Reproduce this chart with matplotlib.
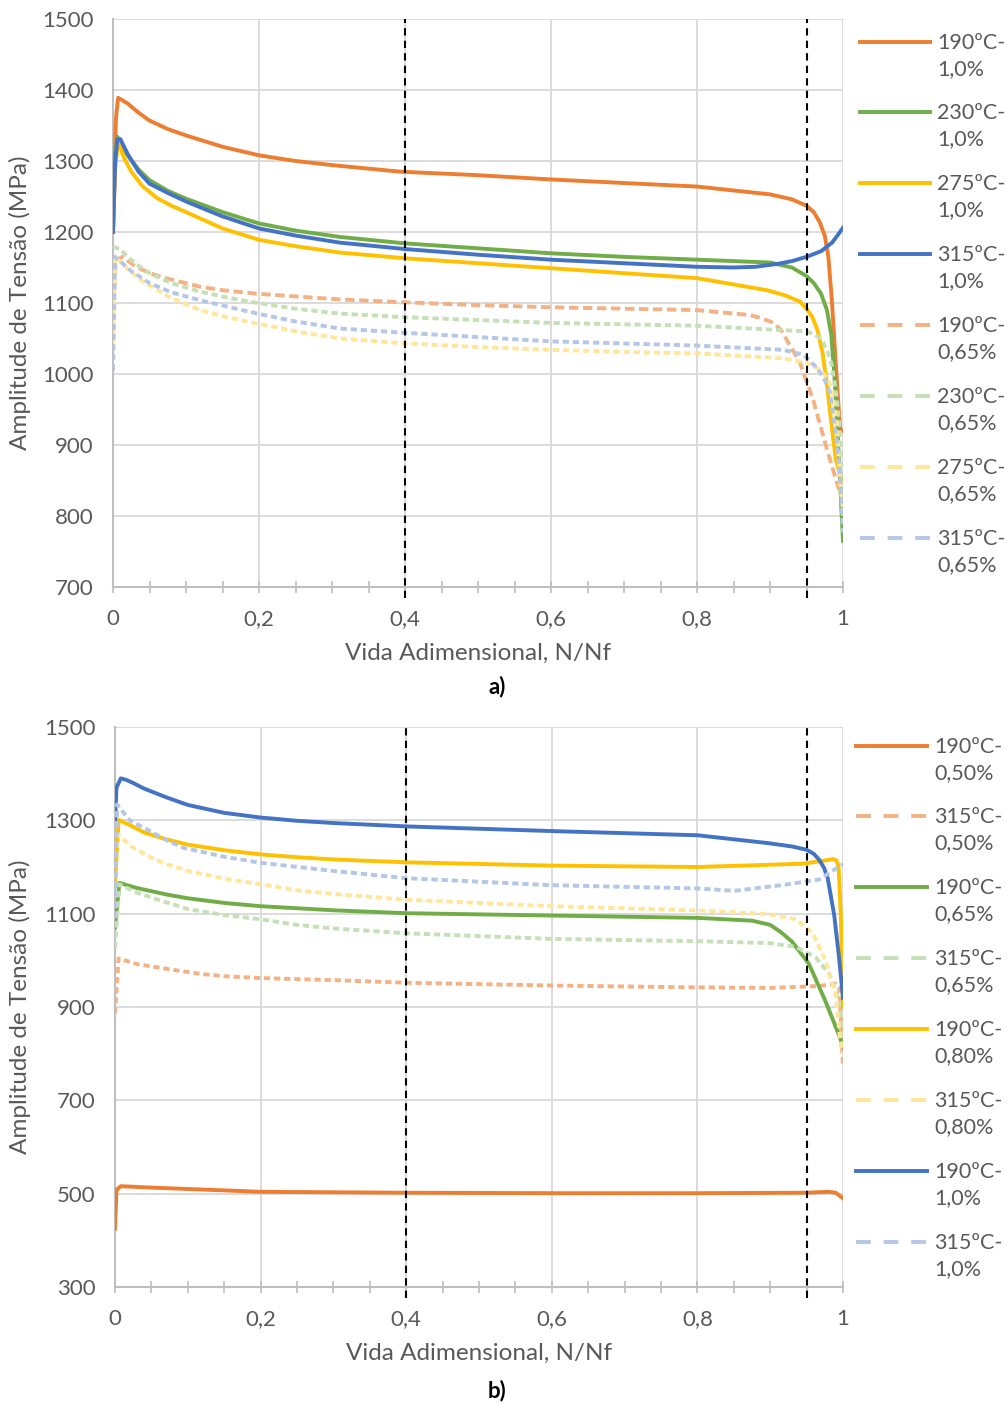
import matplotlib.pyplot as plt
from matplotlib.lines import Line2D
from matplotlib.ticker import MultipleLocator, FuncFormatter

plt.rcParams['font.family'] = ['Lato', 'DejaVu Sans']

ORANGE = '#ED7D31'
GREEN = '#70AD47'
GOLD = '#FFC000'
BLUE = '#4472C4'
L_ORANGE = '#F4B183'
L_GREEN = '#C5E0B4'
L_GOLD = '#FFE699'
L_BLUE = '#B4C7E7'
GRID = '#D9D9D9'
TXT = '#595959'

# ---- a) data: stress amplitude vs normalised life ----
a_190_10_x = [0, 0.004, 0.007, 0.02, 0.035, 0.05, 0.075, 0.1, 0.15, 0.2, 0.25, 0.302, 0.393, 0.5, 0.6, 0.7, 0.8, 0.9, 0.93, 0.95, 0.96, 0.968, 0.975, 0.98, 0.985, 0.99, 0.996, 1.0]
a_190_10_y = [1200, 1360, 1389, 1381, 1368, 1357, 1345, 1336, 1320, 1308, 1300, 1294, 1285, 1280, 1274, 1269, 1264, 1253, 1246, 1237, 1228, 1214, 1195, 1165, 1100, 1016, 922, 920]

a_230_10_x = [0, 0.003, 0.006, 0.012, 0.02, 0.035, 0.05, 0.075, 0.1, 0.15, 0.2, 0.25, 0.311, 0.4, 0.5, 0.6, 0.7, 0.8, 0.9, 0.93, 0.95, 0.96, 0.97, 0.978, 0.984, 0.988, 0.992, 0.996, 1.0]
a_230_10_y = [1200, 1310, 1334, 1322, 1308, 1288, 1273, 1258, 1247, 1228, 1212, 1202, 1193, 1184, 1177, 1170, 1165, 1161, 1157, 1150, 1138, 1128, 1113, 1090, 1055, 1000, 930, 847, 765]

a_275_10_x = [0, 0.003, 0.007, 0.015, 0.025, 0.04, 0.06, 0.08, 0.1, 0.15, 0.2, 0.25, 0.311, 0.4, 0.5, 0.6, 0.7, 0.8, 0.896, 0.92, 0.941, 0.95, 0.958, 0.965, 0.972, 0.978, 0.983, 0.99, 1.0]
a_275_10_y = [1200, 1290, 1327, 1305, 1285, 1265, 1248, 1237, 1228, 1205, 1189, 1180, 1171, 1163, 1156, 1149, 1142, 1135, 1118, 1111, 1102, 1092, 1080, 1062, 1030, 985, 940, 880, 847]

a_315_10_x = [0, 0.003, 0.006, 0.01, 0.02, 0.035, 0.05, 0.075, 0.1, 0.15, 0.2, 0.25, 0.311, 0.4, 0.5, 0.6, 0.7, 0.8, 0.85, 0.88, 0.91, 0.93, 0.95, 0.97, 0.985, 0.993, 1.0]
a_315_10_y = [1200, 1300, 1330, 1331, 1310, 1285, 1268, 1255, 1243, 1222, 1205, 1195, 1185, 1176, 1168, 1161, 1156, 1151, 1150, 1151, 1155, 1159, 1165, 1173, 1185, 1196, 1206]

a_190_065_x = [0, 0.004, 0.013, 0.03, 0.05, 0.076, 0.119, 0.15, 0.198, 0.311, 0.4, 0.5, 0.6, 0.7, 0.8, 0.873, 0.89, 0.905, 0.915, 0.923, 0.941, 0.959, 0.978, 0.989, 1.0]
a_190_065_y = [1100, 1160, 1165, 1152, 1142, 1134, 1123, 1118, 1113, 1105, 1101, 1097, 1094, 1092, 1090, 1083, 1078, 1072, 1062, 1048, 1016, 964, 894, 856, 820]

a_230_065_x = [0, 0.009, 0.03, 0.05, 0.08, 0.119, 0.16, 0.198, 0.25, 0.311, 0.4, 0.5, 0.6, 0.7, 0.8, 0.95, 0.962, 0.971, 0.979, 0.985, 0.991, 0.996, 1.0]
a_230_065_y = [1179, 1176, 1156, 1142, 1128, 1116, 1107, 1100, 1092, 1085, 1080, 1076, 1072, 1070, 1068, 1060, 1055, 1048, 1032, 1011, 970, 917, 800]

a_275_065_x = [0, 0.003, 0.02, 0.04, 0.076, 0.119, 0.16, 0.198, 0.25, 0.311, 0.4, 0.5, 0.6, 0.7, 0.8, 0.918, 0.95, 0.962, 0.971, 0.979, 0.985, 0.991, 0.996, 1.0]
a_275_065_y = [1040, 1165, 1148, 1131, 1109, 1090, 1079, 1071, 1060, 1050, 1043, 1038, 1034, 1031, 1029, 1022, 1016, 1010, 1003, 993, 978, 935, 847, 810]

a_315_065_x = [0, 0.003, 0.025, 0.05, 0.08, 0.119, 0.16, 0.198, 0.25, 0.311, 0.4, 0.5, 0.6, 0.7, 0.8, 0.918, 0.946, 0.963, 0.974, 0.982, 0.990, 0.996, 1.0]
a_315_065_y = [1005, 1165, 1145, 1128, 1115, 1104, 1094, 1085, 1074, 1064, 1058, 1052, 1046, 1043, 1040, 1034, 1027, 1010, 994, 974, 917, 860, 777]

# ---- b) data ----
b_190_050_x = [0, 0.002, 0.008, 0.05, 0.117, 0.2, 0.4, 0.6, 0.8, 0.95, 0.98, 0.99, 1.0]
b_190_050_y = [425, 508, 516, 513, 509, 504, 502, 501, 501, 502, 504, 502, 490]

b_315_050_x = [0, 0.005, 0.03, 0.07, 0.117, 0.15, 0.2, 0.311, 0.4, 0.6, 0.8, 0.9, 0.967, 0.99, 0.995, 1.0]
b_315_050_y = [886, 1004, 992, 982, 971, 966, 962, 957, 952, 946, 942, 941, 945, 950, 941, 772]

b_190_065_x = [0, 0.006, 0.03, 0.071, 0.1, 0.15, 0.2, 0.303, 0.4, 0.6, 0.8, 0.875, 0.9, 0.915, 0.93, 0.953, 0.976, 0.995, 1.0]
b_190_065_y = [1070, 1166, 1155, 1141, 1133, 1123, 1116, 1107, 1101, 1096, 1091, 1085, 1076, 1060, 1040, 993, 912, 838, 816]

b_315_065_x = [0, 0.006, 0.03, 0.071, 0.1, 0.15, 0.2, 0.25, 0.303, 0.4, 0.6, 0.8, 0.898, 0.935, 0.962, 0.981, 0.995, 1.0]
b_315_065_y = [1027, 1163, 1145, 1124, 1110, 1097, 1088, 1076, 1068, 1058, 1046, 1041, 1037, 1029, 1007, 971, 912, 816]

b_190_080_x = [0, 0.005, 0.02, 0.04, 0.071, 0.1, 0.15, 0.2, 0.25, 0.303, 0.4, 0.6, 0.8, 0.944, 0.972, 0.986, 0.991, 0.994, 0.997, 1.0]
b_190_080_y = [1170, 1301, 1290, 1274, 1259, 1248, 1236, 1227, 1221, 1216, 1210, 1203, 1200, 1207, 1213, 1217, 1214, 1200, 1096, 901]

b_315_080_x = [0, 0.004, 0.025, 0.05, 0.071, 0.1, 0.15, 0.2, 0.25, 0.303, 0.4, 0.6, 0.8, 0.898, 0.935, 0.958, 0.976, 0.99, 0.997, 1.0]
b_315_080_y = [1177, 1270, 1241, 1220, 1206, 1192, 1175, 1163, 1150, 1142, 1130, 1116, 1107, 1099, 1088, 1059, 1000, 926, 816, 800]

b_190_10_x = [0, 0.002, 0.008, 0.015, 0.025, 0.04, 0.071, 0.1, 0.15, 0.2, 0.25, 0.303, 0.4, 0.6, 0.8, 0.898, 0.93, 0.95, 0.96, 0.967, 0.974, 0.979, 0.988, 0.995, 1.0]
b_190_10_y = [1291, 1370, 1390, 1387, 1380, 1368, 1349, 1333, 1316, 1306, 1299, 1294, 1287, 1277, 1268, 1251, 1244, 1237, 1228, 1216, 1198, 1176, 1096, 1000, 919]

b_315_10_x = [0, 0.003, 0.02, 0.048, 0.07, 0.094, 0.15, 0.2, 0.303, 0.4, 0.6, 0.8, 0.851, 0.92, 0.967, 1.0]
b_315_10_y = [1090, 1334, 1300, 1277, 1258, 1241, 1222, 1209, 1191, 1176, 1161, 1154, 1149, 1162, 1173, 1206]

series_a = [
    ('190ºC-\n1,0%', a_190_10_x, a_190_10_y, ORANGE, False),
    ('230ºC-\n1,0%', a_230_10_x, a_230_10_y, GREEN, False),
    ('275ºC-\n1,0%', a_275_10_x, a_275_10_y, GOLD, False),
    ('315ºC-\n1,0%', a_315_10_x, a_315_10_y, BLUE, False),
    ('190ºC-\n0,65%', a_190_065_x, a_190_065_y, L_ORANGE, True),
    ('230ºC-\n0,65%', a_230_065_x, a_230_065_y, L_GREEN, True),
    ('275ºC-\n0,65%', a_275_065_x, a_275_065_y, L_GOLD, True),
    ('315ºC-\n0,65%', a_315_065_x, a_315_065_y, L_BLUE, True),
]

series_b = [
    ('190ºC-\n0,50%', b_190_050_x, b_190_050_y, ORANGE, False),
    ('315ºC-\n0,50%', b_315_050_x, b_315_050_y, L_ORANGE, True),
    ('190ºC-\n0,65%', b_190_065_x, b_190_065_y, GREEN, False),
    ('315ºC-\n0,65%', b_315_065_x, b_315_065_y, L_GREEN, True),
    ('190ºC-\n0,80%', b_190_080_x, b_190_080_y, GOLD, False),
    ('315ºC-\n0,80%', b_315_080_x, b_315_080_y, L_GOLD, True),
    ('190ºC-\n1,0%', b_190_10_x, b_190_10_y, BLUE, False),
    ('315ºC-\n1,0%', b_315_10_x, b_315_10_y, L_BLUE, True),
]

W, H = 1007, 1405
fig = plt.figure(figsize=(W / 100, H / 100), dpi=100)


def px_box(left, top, right, bottom):
    return [left / W, 1 - bottom / H, (right - left) / W, (bottom - top) / H]


def comma(v, pos):
    s = ('%.1f' % v).rstrip('0').rstrip('.')
    return s.replace('.', ',')


def style_axes(ax, yticks, top, bottom, left):
    ax.set_xlim(0, 1)
    ax.set_ylim(yticks[0], yticks[-1])
    ax.set_yticks(yticks)
    ax.xaxis.set_major_locator(MultipleLocator(0.2))
    ax.xaxis.set_minor_locator(MultipleLocator(0.05))
    ax.xaxis.set_major_formatter(FuncFormatter(comma))
    ax.grid(True, which='major', color=GRID, lw=1.3, zorder=0)
    ax.set_axisbelow(True)
    for s in ['top', 'right']:
        ax.spines[s].set_visible(False)
    for s in ['left', 'bottom']:
        ax.spines[s].set_color('#BFBFBF')
        ax.spines[s].set_linewidth(1.5)
    ax.tick_params(axis='y', length=0, pad=14, labelsize=16, labelcolor=TXT)
    ax.tick_params(axis='x', which='both', direction='inout', length=8,
                   width=1.2, color='#BFBFBF', pad=12, labelsize=16, labelcolor=TXT)
    h = bottom - top
    ax.set_ylabel('Amplitude de Tensão (MPa)', fontsize=17.5, color=TXT)
    ax.yaxis.set_label_coords((31 - left) / 730, 0.5)
    ax.set_xlabel('Vida Adimensional, N/Nf', fontsize=17.5, color=TXT)
    ax.xaxis.set_label_coords(0.5, -(56 / h))
    for xv in (0.4, 0.95):
        ax.axvline(xv, ymin=-0.02, ymax=1, color='black', lw=1.5,
                   dashes=(3.5, 2.5), clip_on=False, zorder=5)


def draw(ax, series, dash_first_long=False):
    for i, (lab, x, y, c, dashed) in enumerate(series):
        if dashed:
            d = (2.4, 1.2) if (dash_first_long and i == 4) else (1.6, 1.0)
            ax.plot(x, y, color=c, lw=2.8, dashes=d, zorder=3)
        else:
            ax.plot(x, y, color=c, lw=2.8, zorder=3)


def legend(series, x0, x1, xt, ys):
    for (lab, x, y, c, dashed), yy in zip(series, ys):
        kw = dict(dashes=(3.8, 3.3)) if dashed else {}
        fig.add_artist(Line2D([x0 / W, x1 / W], [1 - yy / H, 1 - yy / H],
                              color=c, lw=2.8, **kw))
        fig.text(xt / W, 1 - (yy + 14) / H, lab, fontsize=15.5, color=TXT,
                 va='center', ha='left', linespacing=1.4)


ax1 = fig.add_axes(px_box(113, 19, 843, 587))
style_axes(ax1, list(range(700, 1501, 100)), 19, 587, 113)
draw(ax1, series_a, dash_first_long=True)
legend(series_a, 860, 930, 937, [42, 112, 183, 254, 325, 396, 467, 538])
fig.text(497 / W, 1 - 687 / H, 'a)', fontsize=16, fontweight='bold',
         ha='center', va='center')

ax2 = fig.add_axes(px_box(115, 727, 843, 1287))
style_axes(ax2, list(range(300, 1501, 200)), 727, 1287, 115)
draw(ax2, series_b)
legend(series_b, 856, 927, 934, [746, 816, 887, 958, 1029, 1100, 1171, 1242])
fig.text(497 / W, 1 - 1391 / H, 'b)', fontsize=16, fontweight='bold',
         ha='center', va='center')

fig.savefig('out.png', dpi=100)
